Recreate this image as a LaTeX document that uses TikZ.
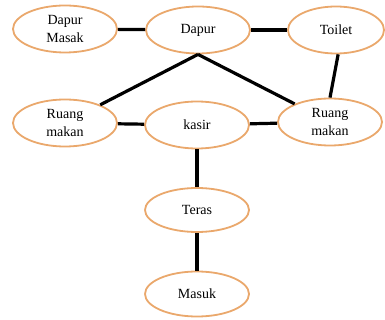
\documentclass[tikz,border=0pt]{standalone}
\usepackage{fontspec}
\setmainfont{Liberation Serif}
\usetikzlibrary{shapes.geometric}
\definecolor{ovalline}{RGB}{234,168,108}
\tikzset{
  room/.style={ellipse, draw=ovalline, line width=1.8pt, fill=white,
    minimum width=104pt, minimum height=47pt, inner sep=0pt,
    align=center, font=\fontsize{14}{18}\selectfont},
  link/.style={line width=3.2pt, black}
}
\begin{document}
\begin{tikzpicture}[x=1pt,y=-1pt]
\useasboundingbox (0,0) rectangle (385,320);
\node[room] (dm) at (65,29) {Dapur\\Masak};
\node[room] (dp) at (198,30) {Dapur};
\node[room, minimum width=96pt] (tl) at (336,30) {Toilet};
\node[room] (rml) at (65,123) {Ruang\\makan};
\node[room] (ks) at (197,125) {kasir};
\node[room] (rmr) at (330,122) {Ruang\\makan};
\node[room, minimum height=44pt] (tr) at (197,210) {Teras};
\node[room, minimum height=45pt] (ms) at (197,294) {Masuk};
\draw[link] (dm) -- (dp);
\draw[link] (dp) -- (tl);
\draw[link] (dp.south) -- (rml);
\draw[link] (dp.south) -- (rmr);
\draw[link] (tl.-85) -- (rmr.90);
\draw[link] (rml) -- (ks);
\draw[link] (ks) -- (rmr);
\draw[link] (ks) -- (tr);
\draw[link] (tr) -- (ms);
\end{tikzpicture}
\end{document}
